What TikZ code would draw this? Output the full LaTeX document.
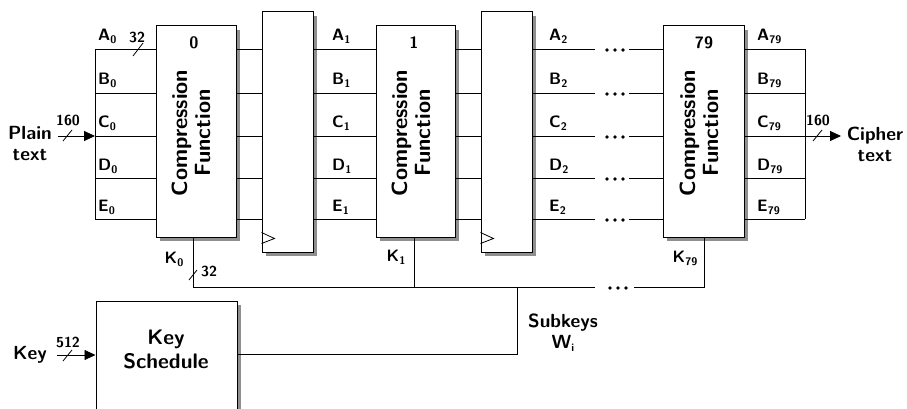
\documentclass[tikz,border=0pt]{standalone}
\usetikzlibrary{arrows.meta,calc}
\definecolor{ink}{rgb}{0,0,0}
\definecolor{shadowc}{rgb}{0.56,0.56,0.56}
\definecolor{paper}{rgb}{1,1,1}
\newcommand{\sbx}[2]{#1\raisebox{-3pt}{\fontsize{11}{11}\selectfont #2}}
\begin{document}
\begin{tikzpicture}[x=1pt,y=-1pt,
 box/.style={draw, line width=1pt, fill=paper, inner sep=0pt},
 wire/.style={line width=0.8pt},
 lab/.style={anchor=base west, inner sep=0pt, font=\sffamily\bfseries\fontsize{16.5}{16.5}\selectfont},
 klab/.style={inner sep=0pt, font=\sffamily\bfseries\fontsize{16.5}{16.5}\selectfont},
 num/.style={inner sep=0pt, font=\sffamily\bfseries\fontsize{14.5}{14.5}\selectfont},
 big/.style={align=center, inner sep=0pt, font=\sffamily\bfseries\fontsize{19}{21}\selectfont},
 cftext/.style={rotate=90, align=center, inner sep=0pt, font=\sffamily\bfseries\fontsize{22}{23}\selectfont},
 kstext/.style={align=center, inner sep=0pt, font=\sffamily\bfseries\fontsize{21}{24}\selectfont},
 dot/.style={fill, circle, inner sep=0pt, minimum size=3.6pt},
 arr/.style={line width=0.8pt, -{Triangle[length=11pt,width=10pt]}}
]
\path[use as bounding box] (0,0) rectangle (907,409);

% shadows (offset right/down)
\fill[shadowc] (160,30) rectangle (240,241);
\fill[shadowc] (266,16) rectangle (317,256);
\fill[shadowc] (380,30) rectangle (459,241);
\fill[shadowc] (485,16) rectangle (536,256);
\fill[shadowc] (667,30) rectangle (748,241);
\fill[shadowc] (100,305) rectangle (241,409);

% boxes
\node[box, minimum width=80pt, minimum height=211pt] (cf0) at (196,131.5) {};
\node[box, minimum width=51pt, minimum height=240pt] (reg1) at (287.5,132) {};
\node[box, minimum width=79pt, minimum height=211pt] (cf1) at (415.5,131.5) {};
\node[box, minimum width=51pt, minimum height=240pt] (reg2) at (506.5,132) {};
\node[box, minimum width=81pt, minimum height=211pt] (cf79) at (703.5,131.5) {};
\node[box, minimum width=141pt, minimum height=112pt] (ks) at (166.5,357) {};

% box texts
\node[klab] (n0) at (194,43) {0};
\node[klab] (n1) at (414,43) {1};
\node[klab] (n79) at (704,43) {79};
\node[cftext] (t0) at (191,133) {Compression\\Function};
\node[cftext] (t1) at (411,133) {Compression\\Function};
\node[cftext] (t79) at (699,133) {Compression\\Function};
\node[kstext] (kst) at (166,349) {Key\\Schedule};

% clock triangles
\draw[wire] ($(reg1.south west)+(0,-20)$) -- ++(13,6) -- ++(-13,5);
\draw[wire] ($(reg2.south west)+(0,-20)$) -- ++(13,6) -- ++(-13,5);

% rows
\foreach \y/\L [count=\i] in {49/A,93/B,136/C,178/D,219/E}{
 \coordinate (l\i) at (95,\y);
 \coordinate (m\i) at (595,\y);
 \coordinate (n\i) at (629,\y);
 \coordinate (r\i) at (805,\y);
 \draw[wire] (l\i) -- (cf0.west |- l\i);
 \draw[wire] (cf0.east |- l\i) -- (reg1.west |- l\i);
 \draw[wire] (reg1.east |- l\i) -- (cf1.west |- l\i);
 \draw[wire] (cf1.east |- l\i) -- (reg2.west |- l\i);
 \draw[wire] (reg2.east |- l\i) -- (m\i);
 \draw[wire] (n\i) -- (cf79.west |- l\i);
 \draw[wire] (cf79.east |- l\i) -- (r\i);
 \node[lab] (la\i) at (98,\y-8) {\sbx{\L}{0}};
 \node[lab] (lb\i) at (332,\y-8) {\sbx{\L}{1}};
 \node[lab] (lc\i) at (549,\y-8) {\sbx{\L}{2}};
 \node[lab] (ld\i) at (757,\y-8) {\sbx{\L}{79}};
 \node[dot] (da\i) at (607,\y+1) {};
 \node[dot] (db\i) at (615,\y+1) {};
 \node[dot] (dc\i) at (623,\y+1) {};
}
\draw[wire] (l1) -- (l5);
\draw[wire] (r1) -- (r5);

% plain text input
\node[big] (plain) at (30,144) {Plain\\text};
\coordinate (pin) at (58,136);
\draw[arr] (pin) -- (l3);
\draw[wire] (63,141) -- (72,130);
\node[num] (p160) at (68,120) {160};
\draw[wire] (133,56) -- (143,43);
\node[num] (a32) at (137,37) {32};

% cipher text output
\coordinate (cout) at (841,136);
\draw[arr] (r3) -- (cout);
\draw[wire] (813,141) -- (822,130);
\node[num] (c160) at (818,120) {160};
\node[big] (cipher) at (875,144) {Cipher\\text};

% key bus
\coordinate (k0) at (193,287);
\coordinate (k1) at (414,287);
\coordinate (k79) at (704,287);
\coordinate (bm) at (595,287);
\coordinate (bn) at (634,287);
\coordinate (sk) at (517,287);
\coordinate (sk2) at (517,354);
\draw[wire] (cf0.south -| k0) -- (k0) -- (bm);
\draw[wire] (cf1.south -| k1) -- (k1);
\draw[wire] (cf79.south -| k79) -- (k79) -- (bn);
\draw[wire] (sk) -- (sk2) -- (ks.east |- sk2);
\node[dot] (bd1) at (610,288) {};
\node[dot] (bd2) at (618,288) {};
\node[dot] (bd3) at (626,288) {};
\draw[wire] (189,280) -- (197,270);
\node[num, anchor=west] (k32) at (201,271) {32};
\node[klab] (kl0) at (174,259) {\sbx{K}{0}};
\node[klab] (kl1) at (396,257) {\sbx{K}{1}};
\node[klab] (kl79) at (685,258) {\sbx{K}{79}};
\node[big] (subk) at (563,333) {Subkeys\\\sbx{W}{i}};

% key input
\node[big] (keyl) at (30,355) {Key};
\coordinate (kin) at (57,355);
\draw[arr] (kin) -- (ks.west |- kin);
\draw[wire] (63,361) -- (72,350);
\node[num] (k512) at (68,342) {512};
\end{tikzpicture}
\end{document}
